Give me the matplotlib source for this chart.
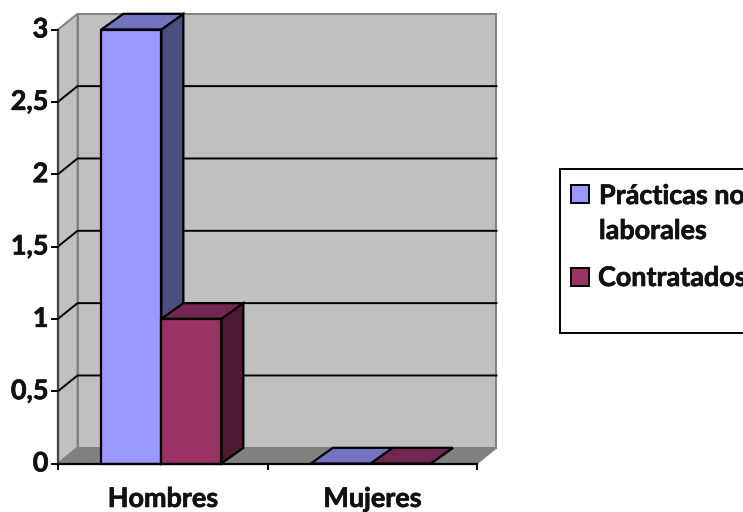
import numpy as np
import matplotlib
matplotlib.use("Agg")
import matplotlib.pyplot as plt
import matplotlib.patheffects as pe
from matplotlib.patches import Polygon, Rectangle

plt.rcParams['font.family'] = ['Lato', 'DejaVu Sans']
plt.rcParams['font.weight'] = 'bold'

# --- Datos ---
categorias = ['Hombres', 'Mujeres']
series = ['Prácticas no\nlaborales', 'Contratados']
practicas = [3, 0]
contratados = [1, 0]
ticks_y = [0, 0.5, 1, 1.5, 2, 2.5, 3]
ticks_lab = ['0', '0,5', '1', '1,5', '2', '2,5', '3']

# colores: frente, arriba, lado
col_prac = ['#9999ff', '#7373bf', '#4d4d80']
col_cont = ['#993366', '#732650', '#4d1a33']

FS = 19.4
# un poco mas de grosor en el texto
grueso = [pe.withStroke(linewidth=0.5, foreground='#111111')]

fig = plt.figure(figsize=(7.43, 5.12), dpi=100)
ax = fig.add_axes([58 / 743, (512 - 463.5) / 512, 419 / 743, 434 / 512])
ax.set_xlim(0, 2)
ax.set_ylim(0, 3)
ax.axis('off')

# profundidad en unidades de datos
DX = 19.5 / 209.5
DY = 15.7 / 144.7
DXB = 22 / 209.5


def poly(pts, fc, ec='black', lw=1.6, z=2):
    ax.add_patch(Polygon(pts, closed=True, fc=fc, ec=ec, lw=lw, zorder=z,
                         clip_on=False, joinstyle='miter'))


# paredes y piso
poly([(0, 0), (DX, DY), (DX, 3 + DY), (0, 3)], '#c0c0c0', '#808080', 1.4, 1)
poly([(DX, DY), (2 + DX, DY), (2 + DX, 3 + DY), (DX, 3 + DY)], '#c0c0c0', '#808080', 1.4, 1)
poly([(0, 0), (2, 0), (2 + DX, DY), (DX, DY)], '#808080', '#808080', 1.0, 1)

# grilla
for t in ticks_y[1:-1]:
    ax.plot([0, DX, 2 + DX], [t, t + DY, t + DY], color='black', lw=1.4, zorder=1.5, clip_on=False)
ax.plot([0, 0], [0, 3], color='#404040', lw=1.6, zorder=1.6, clip_on=False)
ax.plot([0, 2], [0, 0], color='black', lw=1.6, zorder=4, clip_on=False)

# marcas de los ejes
for t, lab in zip(ticks_y, ticks_lab):
    ax.plot([-0.028, 0], [t, t], color='black', lw=1.4, clip_on=False)
    ax.annotate(lab, (0, t), xytext=(-7, 0), textcoords='offset points', ha='right',
                va='center', fontsize=FS, color='#111111', annotation_clip=False,
                path_effects=grueso)
for x in [0, 1, 2]:
    ax.plot([x, x], [0, -0.04], color='black', lw=1.4, clip_on=False)
for i, c in enumerate(categorias):
    ax.annotate(c, (i + 0.5, 0), xytext=(0, -25.5), textcoords='offset points', ha='center',
                va='center', fontsize=FS, color='#111111', annotation_clip=False,
                path_effects=grueso)

# barras
ancho = 60 / 209.5
inicio = 0.207
orden = 3
for i in range(len(categorias)):
    for j, (val, col) in enumerate([(practicas[i], col_prac), (contratados[i], col_cont)]):
        x0 = i + inicio + j * ancho
        x1 = x0 + ancho
        poly([(x1, 0), (x1 + DXB, DY), (x1 + DXB, val + DY), (x1, val)], col[2], z=orden)
        poly([(x0, val), (x1, val), (x1 + DXB, val + DY), (x0 + DXB, val + DY)], col[1], z=orden)
        if val > 0:
            poly([(x0, 0), (x1, 0), (x1, val), (x0, val)], col[0], z=orden + 0.5)
    orden += 1

# leyenda (se corta en el borde derecho, igual que el original)
W, H = 743, 512
fig.add_artist(Rectangle((560 / W, 1 - 332.5 / H), 200 / W, 163.5 / H, transform=fig.transFigure,
                         fc='white', ec='black', lw=1.4))
for y_caja, col in zip([194, 276.5], [col_prac, col_cont]):
    fig.add_artist(Rectangle((570.5 / W, 1 - (y_caja + 9) / H), 18 / W, 18 / H, transform=fig.transFigure,
                             fc=col[0], ec='black', lw=1.4))
fig.text(599 / W, 1 - 213.5 / H, series[0], fontsize=FS, color='#111111', va='center',
         linespacing=1.55, path_effects=grueso)
fig.text(598 / W, 1 - 278 / H, series[1], fontsize=FS, color='#111111', va='center',
         path_effects=grueso)

fig.savefig('out.png', dpi=100)
